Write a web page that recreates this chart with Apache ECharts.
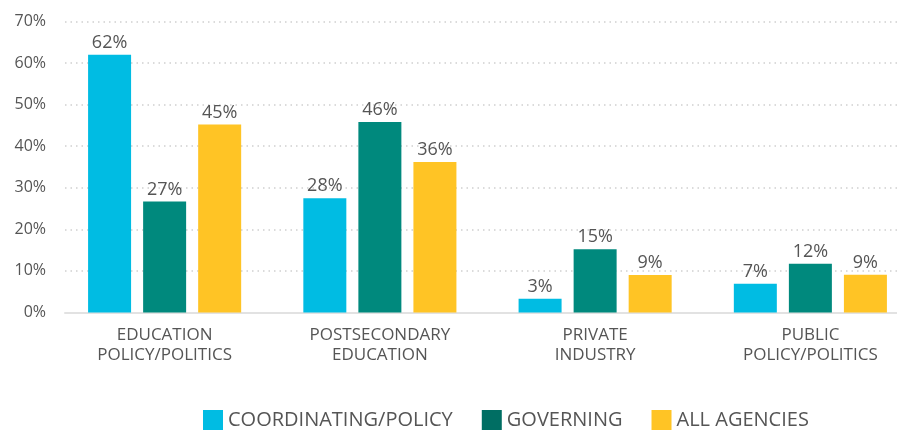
<!DOCTYPE html>
<html>
<head>
<meta charset="utf-8">
<script src="https://cdn.jsdelivr.net/npm/echarts@6/dist/echarts.min.js"></script>
<style>
html, body { margin: 0; padding: 0; background: #fff; overflow: hidden; }
/* canvas is a little wider than the window: the last bar group runs right to the edge */
#chart { width: 918px; height: 430px; }
</style>
</head>
<body>
<div id="chart"></div>
<script>
var categories = ['EDUCATION\nPOLICY/POLITICS', 'POSTSECONDARY\nEDUCATION', 'PRIVATE\nINDUSTRY', 'PUBLIC\nPOLICY/POLITICS'];
var seriesNames = ['COORDINATING/POLICY', 'GOVERNING', 'ALL AGENCIES'];
var coordinating = [62.0, 27.5, 3.3, 6.9];
var governing = [26.7, 45.8, 15.2, 11.7];
var allAgencies = [45.2, 36.2, 9.0, 9.1];
var yTicks = [0, 10, 20, 30, 40, 50, 60, 70];

var colors = ['#00bce3', '#00897d', '#ffc425'];
var legendColors = ['#00bce3', '#006e63', '#ffc425'];
var font = '"Open Sans", sans-serif';
var textColor = '#555555';

function makeSeries(name, data, color) {
  return {
    name: name,
    type: 'bar',
    xAxisIndex: 1,
    yAxisIndex: 1,
    data: data,
    barWidth: 43,
    barGap: '28%',
    itemStyle: { color: color },
    label: {
      show: true,
      position: 'top',
      distance: 3,
      color: textColor,
      fontFamily: font,
      fontSize: 18,
      formatter: function (p) { return Math.round(p.value) + '%'; }
    }
  };
}

var chart = echarts.init(document.getElementById('chart'));
chart.setOption({
  animation: false,
  color: colors,
  textStyle: { fontFamily: font },
  // grid 0: axis line, ticks and gridlines; grid 1: the bars
  grid: [
    { left: 65, right: 21, top: 21.5, bottom: 117.5 },
    { left: 57, right: 0, top: 21.5, bottom: 117.5 }
  ],
  legend: {
    top: 405,
    left: 198,
    itemWidth: 20,
    itemHeight: 20,
    itemGap: 29,
    icon: 'rect',
    textStyle: { color: textColor, fontSize: 20, fontFamily: font, padding: [0, 0, 0, 0] },
    data: seriesNames.map(function (n, i) {
      return { name: n, itemStyle: { color: legendColors[i] } };
    })
  },
  xAxis: [
    {
      type: 'category',
      gridIndex: 0,
      data: categories,
      axisLine: { lineStyle: { color: '#e2e2e2', width: 2 } },
      axisTick: { show: false },
      axisLabel: { show: false }
    },
    {
      type: 'category',
      gridIndex: 1,
      data: categories,
      axisLine: { show: false },
      axisTick: { show: false },
      axisLabel: { color: textColor, fontSize: 17, fontFamily: font, margin: 13, lineHeight: 19.5 }
    }
  ],
  yAxis: [
    {
      type: 'value',
      gridIndex: 0,
      min: yTicks[0],
      max: yTicks[yTicks.length - 1],
      interval: 10,
      axisLine: { show: false },
      axisTick: { show: false },
      axisLabel: { color: textColor, fontSize: 16, fontFamily: font, margin: 19, formatter: '{value}%' },
      splitLine: { lineStyle: { color: '#d0d0d0', type: [1.5, 4], width: 1.5 } }
    },
    {
      type: 'value',
      gridIndex: 1,
      min: yTicks[0],
      max: yTicks[yTicks.length - 1],
      interval: 10,
      show: false,
      splitLine: { show: false }
    }
  ],
  series: [
    makeSeries(seriesNames[0], coordinating, colors[0]),
    makeSeries(seriesNames[1], governing, colors[1]),
    makeSeries(seriesNames[2], allAgencies, colors[2])
  ]
});
</script>
</body>
</html>
